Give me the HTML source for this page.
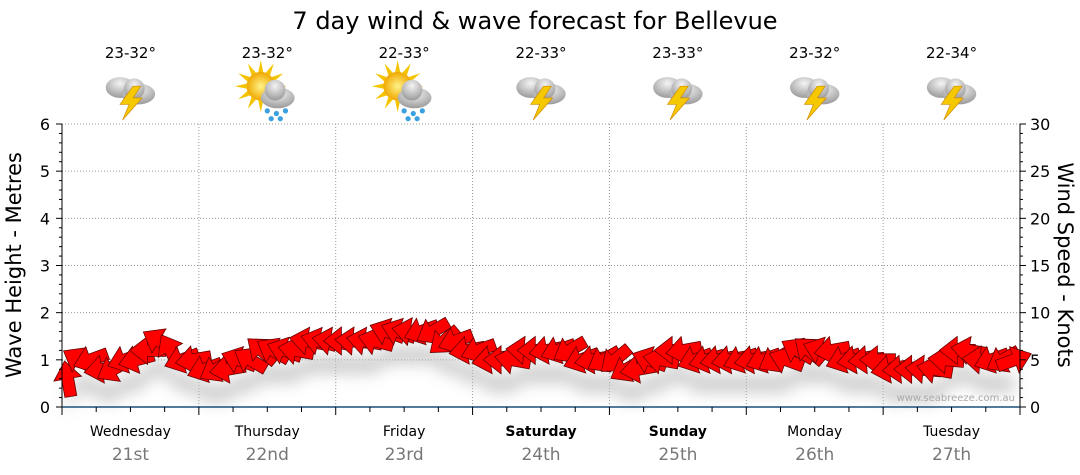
<!DOCTYPE html>
<html><head><meta charset="utf-8"><style>
body{margin:0;background:#fff;font-family:"DejaVu Sans","Liberation Sans",sans-serif;}
svg{display:block}
</style></head><body>
<svg id="c" width="1080" height="475" xmlns="http://www.w3.org/2000/svg" font-family="DejaVu Sans, Liberation Sans, sans-serif">
<defs>
<filter id="blur" x="-20%" y="-50%" width="140%" height="200%"><feGaussianBlur stdDeviation="8"/></filter>
<radialGradient id="cloudG" cx="50%" cy="30%" r="70%"><stop offset="0" stop-color="#f4f4f4"/><stop offset="1" stop-color="#9a9a9a"/></radialGradient>
<radialGradient id="sunG" cx="50%" cy="50%" r="50%"><stop offset="0" stop-color="#fff38a"/><stop offset="1" stop-color="#f0a800"/></radialGradient>
</defs>
<text x="535" y="29" font-size="24" text-anchor="middle" fill="#000">7 day wind &amp; wave forecast for Bellevue</text>
<g id="grid"></g><g id="icons"></g><g id="shadow"></g><g id="arrows"></g><g id="axes"></g>
<text x="1015" y="401" font-size="10" fill="#aaa" text-anchor="end">www.seabreeze.com.au</text>
<text transform="translate(21,265) rotate(-90)" font-size="21" text-anchor="middle">Wave Height - Metres</text>
<text transform="translate(1058,265) rotate(90)" font-size="21" text-anchor="middle">Wind Speed - Knots</text>
</svg>
<script>
const days=["Wednesday","Thursday","Friday","Saturday","Sunday","Monday","Tuesday"];
const dates=["21st","22nd","23rd","24th","25th","26th","27th"];
const temps=["23-32°","23-32°","22-33°","22-33°","23-33°","23-32°","22-34°"];
const icons=["storm","sunrain","sunrain","storm","storm","storm","storm"];
const leftTicks=[0,1,2,3,4,5,6];
const rightTicks=[0,5,10,15,20,25,30];
const windSpeed=[3,5,5,4,4,5,5,6,7,6,5,5, 4,4,4,5,5,6,6,6,6,7,7,7, 7,7,7,7,8,8,8,8,8,7,7,6, 6,5,5,5,6,6,6,6,6,5,5,5, 5,4,4,5,5,6,6,5,5,5,5,5, 5,5,5,5,6,6,6,6,5,5,5,5, 4,4,4,4,4,5,6,6,5,5,5,5];
const windDir=[100,150,200,190,210,200,195,180,150,120,200,190, 200,210,190,160,150,140,150,160,170,170,165,170, 180,175,170,165,160,160,170,200,210,220,200,190, 200,190,180,170,175,180,190,200,210,200,190,210, 220,210,190,160,170,180,190,200,195,190,190,200, 190,200,210,160,150,140,160,190,200,190,185,180, 190,185,180,175,170,175,180,170,175,200,210,20];
const X0=62,X1=1020,Y0=407,Y1=124,NS="http://www.w3.org/2000/svg";
const dayW=(X1-X0)/7;
const xT=h=>X0+h/168*(X1-X0);
const yL=m=>Y0-m/6*(Y0-Y1);
const yR=k=>Y0-k/30*(Y0-Y1);
function mk(p,t,a){const e=document.createElementNS(NS,t);for(const k in a)e.setAttribute(k,a[k]);p.appendChild(e);return e;}
const G=id=>document.getElementById(id);
const grid=G('grid'),axes=G('axes'),icg=G('icons'),arr=G('arrows'),sh=G('shadow');
leftTicks.forEach(v=>{if(v>0){const l=mk(grid,'line',{x1:X0,x2:X1,y1:yL(v),y2:yL(v),stroke:'#999','stroke-dasharray':'1,2'});

}
const t=mk(axes,'text',{x:50,y:yL(v)+6,'font-size':16,'text-anchor':'end'});t.textContent=v;

});
for(let v=0;v<=6.001;v+=0.2){mk(axes,'line',{x1:X0-(Math.abs(v-Math.round(v))<0.01?6:3),x2:X0,y1:yL(v),y2:yL(v),stroke:'#000'});}
rightTicks.forEach(v=>{const t=mk(axes,'text',{x:1030,y:yR(v)+6,'font-size':16});t.textContent=v;

});
for(let k=0;k<=30;k++){mk(axes,'line',{x1:X1,x2:X1+(k%5==0?6:3),y1:yR(k),y2:yR(k),stroke:'#000'});}
mk(axes,'line',{x1:X0,x2:X0,y1:Y1,y2:Y0,stroke:'#000'});
mk(axes,'line',{x1:X1,x2:X1,y1:Y1,y2:Y0,stroke:'#000'});
mk(axes,'line',{x1:X0,x2:X1,y1:Y0,y2:Y0,stroke:'#1b4f7a','stroke-width':1.5});
for(let h=0;h<=168;h+=6){mk(axes,'line',{x1:xT(h),x2:xT(h),y1:Y0,y2:Y0+(h%24==0?8:5),stroke:'#000'});}
days.forEach((d,i)=>{
 if(i>0){const l=mk(grid,'line',{x1:X0+i*dayW,x2:X0+i*dayW,y1:Y1,y2:Y0,stroke:'#999','stroke-dasharray':'1,2'});
 
 }
 const cx=X0+(i+0.5)*dayW,we=i==3||i==4;
 const t=mk(axes,'text',{x:cx,y:436,'font-size':14,'text-anchor':'middle','font-weight':we?'bold':'normal'});t.textContent=d;
 
 
 const t2=mk(axes,'text',{x:cx,y:460,'font-size':17,'text-anchor':'middle',fill:'#777'});t2.textContent=dates[i];
 
 
 const t3=mk(icg,'text',{x:cx,y:58,'font-size':15,'text-anchor':'middle'});t3.textContent=temps[i];
 
 
 const g=mk(icg,'g',{transform:`translate(${cx},94) scale(1.3)`});
 
 
 if(icons[i]=='sunrain'){
  for(let a=0;a<360;a+=30){const r=a*Math.PI/180;mk(g,'polygon',{points:`${-5+Math.cos(r)*20},${-6+Math.sin(r)*20} ${-5+Math.cos(r+0.18)*11},${-6+Math.sin(r+0.18)*11} ${-5+Math.cos(r-0.18)*11},${-6+Math.sin(r-0.18)*11}`,fill:'#f5c400'});}
  mk(g,'circle',{cx:-5,cy:-6,r:11,fill:'url(#sunG)'});
  mk(g,'ellipse',{cx:8,cy:3,rx:13,ry:8,fill:'url(#cloudG)'});mk(g,'circle',{cx:6,cy:-3,r:8,fill:'url(#cloudG)'});
  [[0,13],[7,15],[14,13],[3,19],[10,19]].forEach(p=>mk(g,'circle',{cx:p[0],cy:p[1],r:2,fill:'#3aa0e0'}));
 }else{
  mk(g,'ellipse',{cx:-8,cy:-5,rx:11,ry:8,fill:'url(#cloudG)'});
  mk(g,'ellipse',{cx:6,cy:0,rx:13,ry:8,fill:'url(#cloudG)'});mk(g,'circle',{cx:3,cy:-4,r:8,fill:'url(#cloudG)'});
  mk(g,'polygon',{points:'2,-6 -8,8 -1,8 -6,20 9,3 2,3 8,-6',fill:'#f6c800',stroke:'#d08a00','stroke-width':0.5});
 }
});
const pts=windSpeed.map((s,i)=>[xT(i*2+1),yR(s)+16]);
mk(sh,'path',{d:'M'+pts.map(p=>p.join(',')).join(' L')+' L'+pts.slice().reverse().map(p=>`${p[0]},${p[1]+16}`).join(' L')+'Z',fill:'#bbb',filter:'url(#blur)',opacity:0.8});
windSpeed.forEach((s,i)=>{
 const cx=xT(i*2+1),cy=yR(s),a=-windDir[i];
 const p=mk(arr,'polygon',{points:'-18,-6 0,-6 0,-14 18,0 0,14 0,6 -18,6',transform:`translate(${cx},${cy}) rotate(${a})`,fill:'#f00',stroke:'#600','stroke-width':0.8});
 
 
});
</script>
</body></html>
